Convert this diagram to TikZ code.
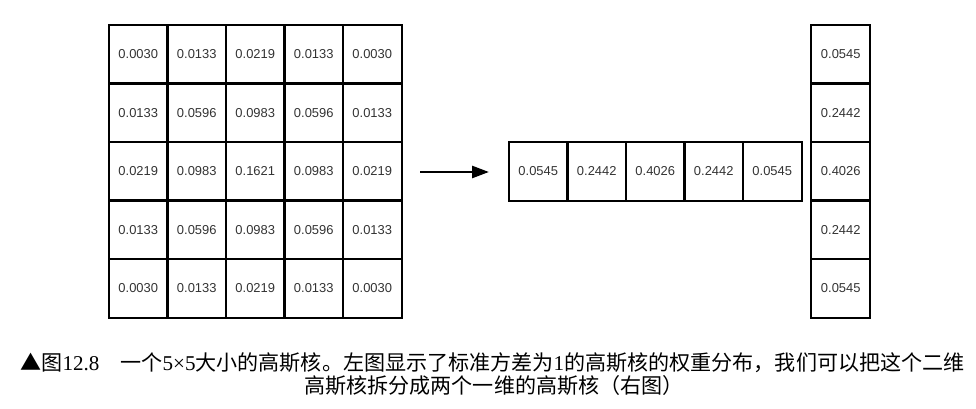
\documentclass[tikz,border=0pt]{standalone}
\usepackage{fontspec}
\setmainfont{Liberation Sans}
\newfontfamily\cjk{Noto Sans CJK SC}
\newfontfamily\numfont{Liberation Serif}
\usetikzlibrary{arrows.meta}

\begin{document}
\begin{tikzpicture}[x=0.75pt, y=-0.75pt,
        cell/.style={draw, line width=1.5pt, minimum width=43.9pt, minimum height=43.9pt,
            inner sep=0pt, text=black!80, font=\fontsize{9.7}{11}\selectfont},
        caption/.style={font=\cjk\fontsize{15.8}{18}\selectfont}]
        \useasboundingbox (0,0) rectangle (976,409);
        % 5x5 kernel
        \foreach \row/\vals in {1/{0.0030,0.0133,0.0219,0.0133,0.0030},
                                2/{0.0133,0.0596,0.0983,0.0596,0.0133},
                                3/{0.0219,0.0983,0.1621,0.0983,0.0219},
                                4/{0.0133,0.0596,0.0983,0.0596,0.0133},
                                5/{0.0030,0.0133,0.0219,0.0133,0.0030}}
            \foreach \v [count=\col] in \vals
                \node[cell] (k\row\col) at ({138.25+58.5*(\col-1)}, {54.25+58.5*(\row-1)}) {\v};

        % row and column kernels
        \foreach \v [count=\col] in {0.0545,0.2442,0.4026,0.2442,0.0545} {
            \node[cell] (h\col) at ({538.25+58.5*(\col-1)}, 171.25) {\v};
            \node[cell] (v\col) at (840.75, {54.25+58.5*(\col-1)}) {\v};
        }

        \coordinate (arrtail) at (420,172);
        \coordinate (arrhead) at (489,172);
        \draw [line width=2pt, -{Triangle[length=12.75pt, width=9pt]}] (arrtail) -- (arrhead);

        \node[caption] (cap1) at (492.5,363) {▲图{\numfont 12.8}\quad 一个{\numfont 5×5}大小的高斯核。左图显示了标准方差为{\numfont 1}的高斯核的权重分布，我们可以把这个二维};
        \node[caption] (cap2) at (494,385) {高斯核拆分成两个一维的高斯核（右图）};
    \end{tikzpicture}
\end{document}
